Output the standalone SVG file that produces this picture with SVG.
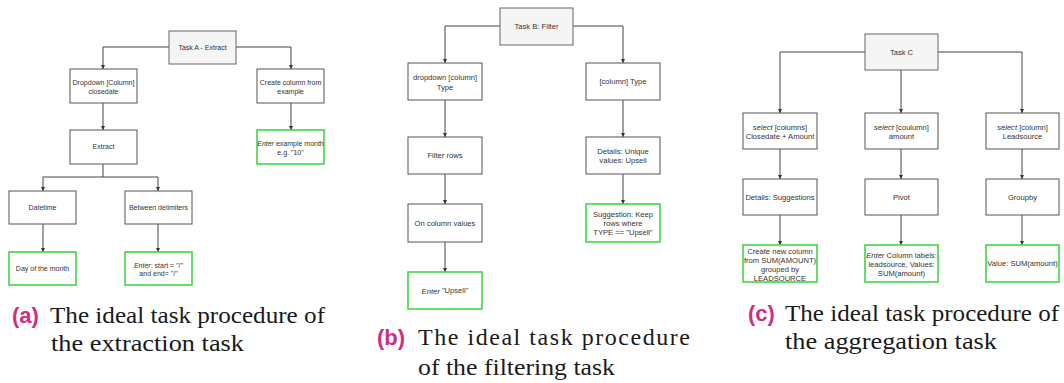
<svg xmlns="http://www.w3.org/2000/svg" width="1064" height="383" viewBox="0 0 1064 383">
<style>
.bx{fill:#ffffff;stroke:#555555;stroke-width:1}
.tk{fill:#f5f5f5;stroke:#666666;stroke-width:1}
.gr{fill:#ffffff;stroke:#44d444;stroke-width:1.6}
.t{font-family:"Liberation Sans",Arial,sans-serif;fill:#333333;text-anchor:middle;dominant-baseline:central}
.a{font-size:7px}
.b{font-size:7.6px}
.c{font-size:7.6px}
.ln{fill:none;stroke:#444444;stroke-width:1}
.cap{font-family:"Liberation Serif","Times New Roman",serif;font-size:24px;fill:#1a1a1a}
.lab{font-family:"Liberation Sans",Arial,sans-serif;font-size:22px;font-weight:bold;fill:#d22c84}
</style>
<defs>
<marker id="ar" viewBox="0 0 10 10" refX="10" refY="5" markerWidth="4.5" markerHeight="4.5" markerUnits="userSpaceOnUse" orient="auto">
<path d="M0,0 L10,5 L0,10 z" fill="#333333"/>
</marker>
</defs>
<rect width="1064" height="383" fill="#ffffff"/>

<g id="connectors">
<!-- panel a -->
<path class="ln" d="M169,47 H103 V69" marker-end="url(#ar)"/>
<path class="ln" d="M236,47 H291 V69" marker-end="url(#ar)"/>
<path class="ln" d="M103,103 V130" marker-end="url(#ar)"/>
<path class="ln" d="M291,103 V130" marker-end="url(#ar)"/>
<path class="ln" d="M103,164 V177 H43 V191" marker-end="url(#ar)"/>
<path class="ln" d="M103,177 H158 V191" marker-end="url(#ar)"/>
<path class="ln" d="M43,224 V252" marker-end="url(#ar)"/>
<path class="ln" d="M158,224 V252" marker-end="url(#ar)"/>
<!-- panel b -->
<path class="ln" d="M500,26 H445 V63" marker-end="url(#ar)"/>
<path class="ln" d="M573,26 H623 V63" marker-end="url(#ar)"/>
<path class="ln" d="M445,100 V137" marker-end="url(#ar)"/>
<path class="ln" d="M445,174 V204" marker-end="url(#ar)"/>
<path class="ln" d="M445,242 V272" marker-end="url(#ar)"/>
<path class="ln" d="M623,100 V137" marker-end="url(#ar)"/>
<path class="ln" d="M623,174 V204" marker-end="url(#ar)"/>
<!-- panel c -->
<path class="ln" d="M865,52 H780 V113" marker-end="url(#ar)"/>
<path class="ln" d="M901,70 V113" marker-end="url(#ar)"/>
<path class="ln" d="M938,52 H1022 V113" marker-end="url(#ar)"/>
<path class="ln" d="M780,149 V179" marker-end="url(#ar)"/>
<path class="ln" d="M901,149 V179" marker-end="url(#ar)"/>
<path class="ln" d="M1022,149 V179" marker-end="url(#ar)"/>
<path class="ln" d="M780,215 V245" marker-end="url(#ar)"/>
<path class="ln" d="M901,215 V245" marker-end="url(#ar)"/>
<path class="ln" d="M1022,215 V245" marker-end="url(#ar)"/>
</g>

<!-- Panel A nodes -->
<g id="taskA"><rect class="tk" x="169" y="31" width="67" height="33"/><text class="t a" x="202.5" y="47.5">Task A - Extract</text></g>
<g id="a_dropdown"><rect class="bx" x="70" y="69" width="67" height="34"/><text class="t a" x="103.5"><tspan x="103.5" y="82">Dropdown [Column]</tspan><tspan x="103.5" y="90.5">closedate</tspan></text></g>
<g id="a_create"><rect class="bx" x="257" y="69" width="67" height="34"/><text class="t a" x="290.5"><tspan x="290.5" y="82">Create column from</tspan><tspan x="290.5" y="90.5">example</tspan></text></g>
<g id="a_extract"><rect class="bx" x="70" y="130" width="67" height="34"/><text class="t a" x="103.5" y="146.5">Extract</text></g>
<g id="a_entermonth"><rect class="gr" x="257" y="130" width="67" height="34"/><text class="t a" x="290.5"><tspan x="290.5" y="143"><tspan font-style="italic">Enter</tspan> example month</tspan><tspan x="290.5" y="151.5">e.g. "10"</tspan></text></g>
<g id="a_datetime"><rect class="bx" x="9" y="191" width="67" height="33"/><text class="t a" x="42.5" y="207.5">Datetime</text></g>
<g id="a_between"><rect class="bx" x="125" y="191" width="67" height="33"/><text class="t a" x="158.5" y="207.5">Between delimiters</text></g>
<g id="a_day"><rect class="gr" x="9" y="252" width="67" height="33"/><text class="t a" x="42.5" y="268.5">Day of the month</text></g>
<g id="a_enterstart"><rect class="gr" x="125" y="252" width="67" height="33"/><text class="t a" x="158.5"><tspan x="158.5" y="264.5"><tspan font-style="italic">Enter</tspan>: start = "/"</tspan><tspan x="158.5" y="273">and end= "/"</tspan></text></g>

<!-- Panel B nodes -->
<g id="taskB"><rect class="tk" x="500" y="8" width="73" height="37"/><text class="t b" x="536.5" y="26">Task B: Filter</text></g>
<g id="b_dropdown"><rect class="bx" x="408" y="63" width="74" height="37"/><text class="t b" x="445"><tspan x="445" y="77.3">dropdown [column]</tspan><tspan x="445" y="86.6">Type</tspan></text></g>
<g id="b_columntype"><rect class="bx" x="586" y="63" width="74" height="37"/><text class="t b" x="623" y="81.5">[column] Type</text></g>
<g id="b_filterrows"><rect class="bx" x="408" y="137" width="74" height="37"/><text class="t b" x="445" y="155.5">Filter rows</text></g>
<g id="b_details"><rect class="bx" x="586" y="137" width="74" height="37"/><text class="t b" x="623"><tspan x="623" y="151">Details: Unique</tspan><tspan x="623" y="160.3">values: Upsell</tspan></text></g>
<g id="b_oncolumn"><rect class="bx" x="408" y="204" width="74" height="38"/><text class="t b" x="445" y="223">On column values</text></g>
<g id="b_suggestion"><rect class="gr" x="586" y="204" width="74" height="38"/><text class="t b" x="623"><tspan x="623" y="214">Suggestion: Keep</tspan><tspan x="623" y="222.8">rows where</tspan><tspan x="623" y="231.6">TYPE == "Upsell"</tspan></text></g>
<g id="b_enter"><rect class="gr" x="408" y="272" width="74" height="37"/><text class="t b" x="445" y="290.5"><tspan font-style="italic">Enter</tspan> "Upsell"</text></g>

<!-- Panel C nodes -->
<g id="taskC"><rect class="tk" x="865" y="34" width="73" height="36"/><text class="t c" x="901.5" y="52">Task C</text></g>
<g id="c_select1"><rect class="bx" x="743" y="113" width="74" height="36"/><text class="t c" x="780"><tspan x="780" y="126.7"><tspan font-style="italic">select</tspan> [columns]</tspan><tspan x="780" y="135.7">Closedate + Amount</tspan></text></g>
<g id="c_select2"><rect class="bx" x="865" y="113" width="73" height="36"/><text class="t c" x="901.5"><tspan x="901.5" y="126.7"><tspan font-style="italic">select</tspan> [coulumn]</tspan><tspan x="901.5" y="135.7">amount</tspan></text></g>
<g id="c_select3"><rect class="bx" x="986" y="113" width="73" height="36"/><text class="t c" x="1022.5"><tspan x="1022.5" y="126.7"><tspan font-style="italic">select</tspan> [column]</tspan><tspan x="1022.5" y="135.7">Leadsource</tspan></text></g>
<g id="c_details"><rect class="bx" x="743" y="179" width="74" height="36"/><text class="t c" x="780" y="197">Details: Suggestions</text></g>
<g id="c_pivot"><rect class="bx" x="865" y="179" width="73" height="36"/><text class="t c" x="901.5" y="197">Pivot</text></g>
<g id="c_groupby"><rect class="bx" x="986" y="179" width="73" height="36"/><text class="t c" x="1022.5" y="197">Groupby</text></g>
<g id="c_create"><rect class="gr" x="743" y="245" width="74" height="37"/><text class="t c" x="780"><tspan x="780" y="250.7">Create new column</tspan><tspan x="780" y="259.7">from SUM(AMOUNT)</tspan><tspan x="780" y="268.7">grouped by</tspan><tspan x="780" y="277.5">LEADSOURCE</tspan></text></g>
<g id="c_enter"><rect class="gr" x="865" y="245" width="73" height="37"/><text class="t c" x="901.5"><tspan x="901.5" y="254.5"><tspan font-style="italic">Enter</tspan> Column labels:</tspan><tspan x="901.5" y="263.5">leadsource, Values:</tspan><tspan x="901.5" y="272.5">SUM(amount)</tspan></text></g>
<g id="c_value"><rect class="gr" x="986" y="245" width="73" height="37"/><text class="t c" x="1022.5" y="263.5">Value: SUM(amount)</text></g>

<!-- Captions -->
<g id="captionA">
<text class="lab" x="12" y="323">(a)</text>
<text class="cap" x="50" y="323" textLength="275" lengthAdjust="spacingAndGlyphs">The ideal task procedure of</text>
<text class="cap" x="51" y="351" textLength="193" lengthAdjust="spacingAndGlyphs">the extraction task</text>
</g>
<g id="captionB">
<text class="lab" x="377" y="345">(b)</text>
<text class="cap" x="418" y="345" textLength="272" lengthAdjust="spacing">The ideal task procedure</text>
<text class="cap" x="418" y="375" textLength="197" lengthAdjust="spacingAndGlyphs">of the filtering task</text>
</g>
<g id="captionC">
<text class="lab" x="748" y="321">(c)</text>
<text class="cap" x="785" y="321" textLength="274" lengthAdjust="spacingAndGlyphs">The ideal task procedure of</text>
<text class="cap" x="785" y="349" textLength="212" lengthAdjust="spacingAndGlyphs">the aggregation task</text>
</g>
</svg>
